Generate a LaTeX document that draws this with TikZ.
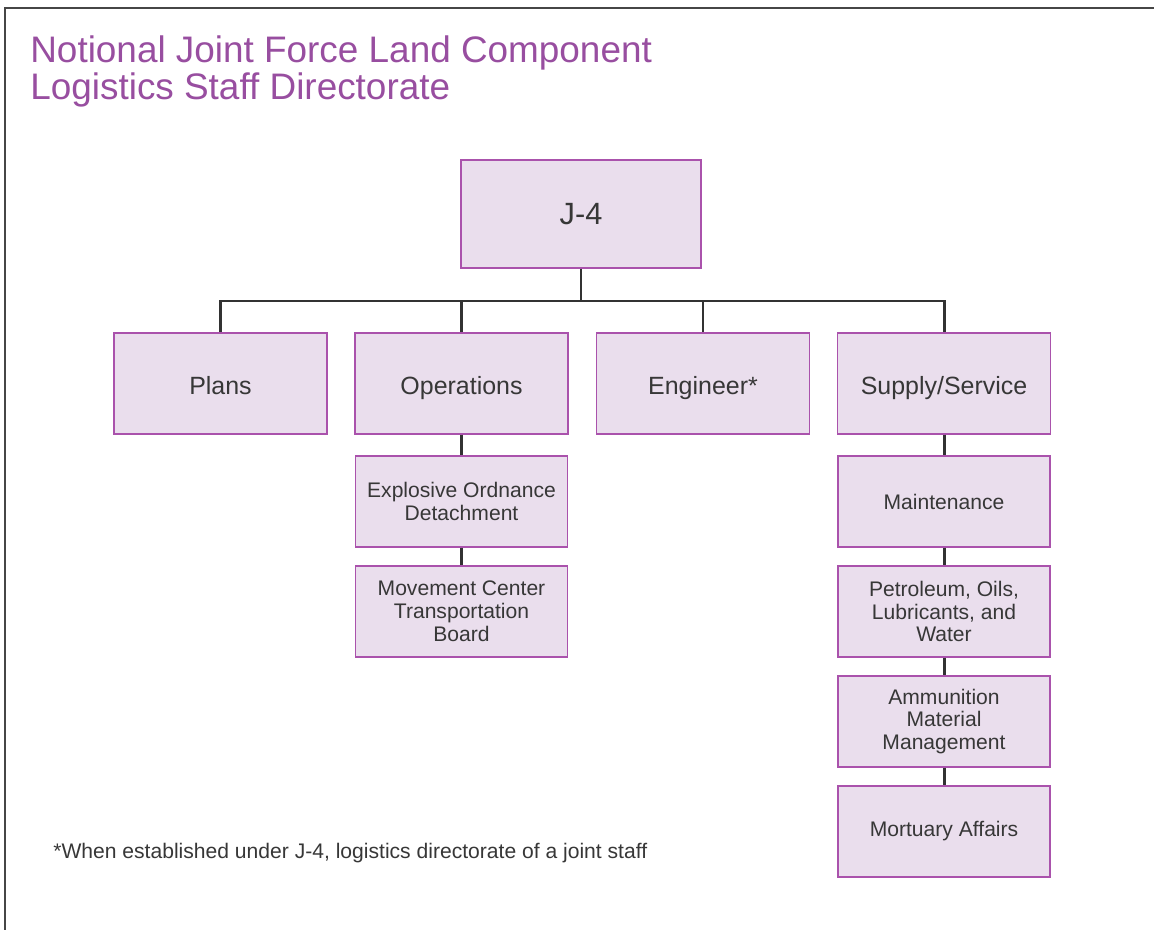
\documentclass[tikz,border=0pt]{standalone}
\usepackage{fontspec}
\setmainfont{Liberation Sans}
\usepackage{tikz}

\definecolor{titlepurple}{RGB}{152,78,160}
\definecolor{boxfill}{RGB}{234,222,237}
\definecolor{boxline}{RGB}{170,82,172}
\definecolor{textgray}{RGB}{55,55,55}
\definecolor{linkgray}{RGB}{50,50,50}
\definecolor{framegray}{RGB}{70,70,70}

\begin{document}
\begin{tikzpicture}[
	unit/.style={draw=boxline, fill=boxfill, line width=0.7pt, text=textgray,
		minimum width=4.26cm, minimum height=2.02cm, align=center, inner sep=2pt,
		text height=14pt, text depth=1.5pt,
		font=\fontsize{14.2}{17}\selectfont},
	subunit/.style={unit, minimum width=4.24cm, minimum height=1.82cm,
		text height=, text depth=,
		font=\fontsize{12}{13}\selectfont},
	link/.style={draw=linkgray, line width=1.7pt},
	titletext/.style={text=titlepurple, font=\fontsize{21}{21}\selectfont,
		anchor=base west, inner sep=0pt}]
		\useasboundingbox (0cm,0cm) rectangle (23.08cm,-18.6cm);

		% Frame
		\draw[line width=1.1pt, draw=framegray] (0.1cm,-18.6cm) -- (0.1cm,-0.16cm) -- (23.08cm,-0.16cm);

		% Title
		\node[titletext] (title1) at (0.6cm,-1.26cm) {Notional Joint Force Land Component};
		\node[titletext] (title2) at (0.6cm,-2.0cm) {Logistics Staff Directorate};

		% Top box
		\node[unit, minimum width=4.8cm, minimum height=2.16cm, font=\fontsize{17.5}{20}\selectfont] (jfour) at (11.62cm,-4.28cm) {J-4};

		% Second row
		\node[unit] (plans) at (4.41cm,-7.67cm) {Plans};
		\node[unit] (ops) at (9.23cm,-7.67cm) {Operations};
		\node[unit] (eng) at (14.06cm,-7.67cm) {Engineer*};
		\node[unit] (supply) at (18.88cm,-7.67cm) {Supply/Service};

		% Under operations
		\node[subunit] (eod) at (9.23cm,-10.03cm) {Explosive Ordnance\\Detachment};
		\node[subunit] (move) at (9.23cm,-12.23cm) {Movement Center\\Transportation\\Board};

		% Under supply/service
		\node[subunit] (maint) at (18.88cm,-10.03cm) {Maintenance};
		\node[subunit] (pol) at (18.88cm,-12.23cm) {Petroleum, Oils,\\Lubricants, and\\Water};
		\node[subunit] (ammo) at (18.88cm,-14.43cm) {Ammunition\\Material\\Management};
		\node[subunit] (mort) at (18.88cm,-16.63cm) {Mortuary Affairs};

		% Links
		\coordinate (bus) at (11.62cm,-6.02cm);
		\draw[link] (jfour.south) -- (bus);
		\foreach \n in {plans,ops,eng,supply}
			\draw[link] (bus) -| (\n.north);
		\draw[link] (ops) -- (eod);
		\draw[link] (eod) -- (move);
		\draw[link] (supply) -- (maint);
		\draw[link] (maint) -- (pol);
		\draw[link] (pol) -- (ammo);
		\draw[link] (ammo) -- (mort);

		% Footnote
		\node[anchor=base west, inner sep=0pt, text=textgray, font=\fontsize{12}{14}\selectfont] (note) at (1.06cm,-17.18cm) {*When established under J-4, logistics directorate of a joint staff};
	\end{tikzpicture}
\end{document}
